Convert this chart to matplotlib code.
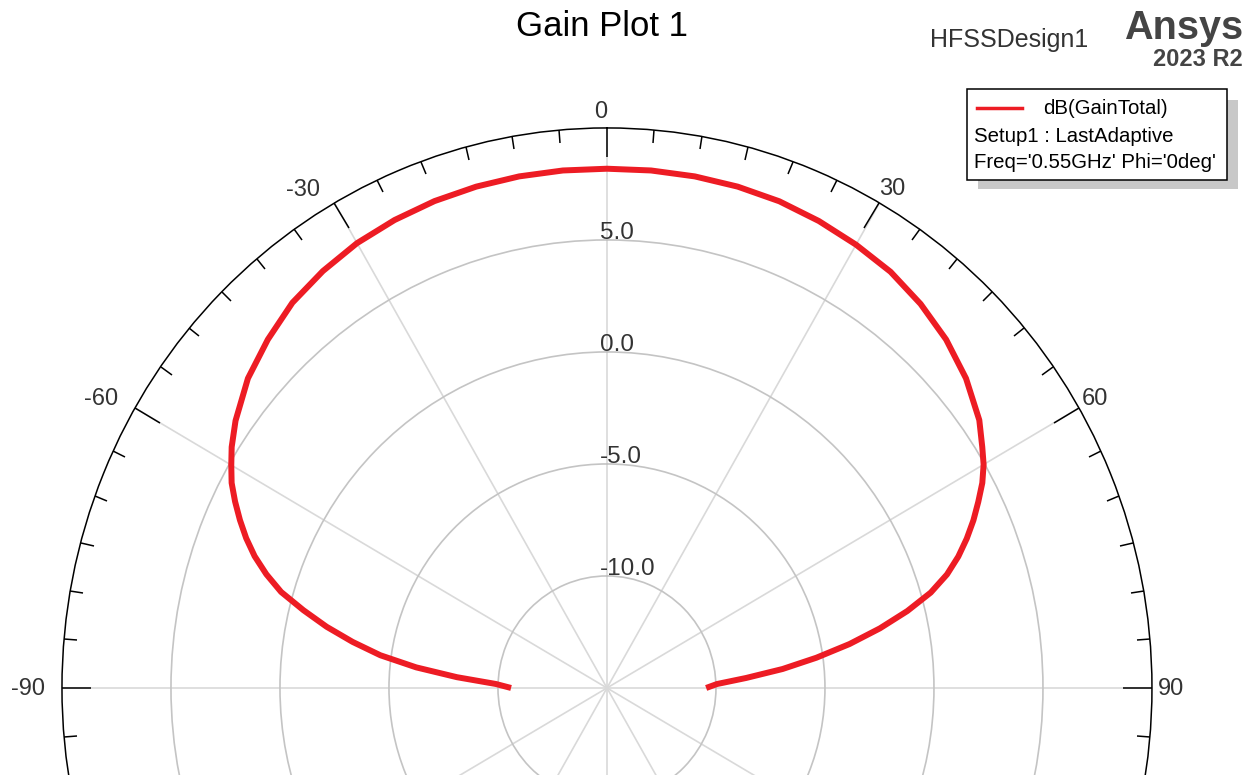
import numpy as np
import matplotlib
matplotlib.use('Agg')
import matplotlib.pyplot as plt
from matplotlib.patches import Rectangle
from matplotlib.lines import Line2D

plt.rcParams['font.family'] = ['Liberation Sans', 'DejaVu Sans']

# Far-field cut, Phi = 0deg, Freq = 0.55 GHz
theta_deg = [-90, -88, -86, -84, -82, -80, -78, -76, -74, -72, -70, -68, -66,
             -64, -62, -60, -58, -55, -50, -45, -40, -35, -30, -25, -20, -15,
             -10, -5, 0, 5, 10, 15, 20, 25, 30, 35, 40, 45, 50, 55, 58, 60,
             62, 64, 66, 68, 70, 72, 74, 76, 78, 80, 82, 84, 86, 88, 90]
gain_db = [-10.6, -9.9, -8.1, -6.2, -4.5, -3.15, -1.85, -0.65, 0.55, 1.43,
           2.2, 2.85, 3.43, 3.98, 4.5, 4.9, 5.3, 5.8, 6.5, 7.0, 7.45, 7.72,
           7.93, 8.05, 8.13, 8.17, 8.19, 8.19, 8.18, 8.19, 8.19, 8.17, 8.12,
           8.0, 7.85, 7.68, 7.38, 7.0, 6.5, 5.85, 5.3, 4.95, 4.5, 3.95, 3.4,
           2.8, 2.15, 1.4, 0.45, -0.8, -2.2, -3.7, -5.3, -6.9, -8.6, -9.95,
           -10.45]

r_min, r_max = -15, 10
r_ticks = [-10, -5, 0, 5]
theta_labels = [-90, -60, -30, 0, 30, 60, 90]
# label offsets (pixels) from the outer circle and alignment
label_pos = {
    0: (-6, 10, 'center', 'baseline'),
    30: (0, 8, 'left', 'baseline'),
    -30: (-14, 7, 'right', 'baseline'),
    60: (3, 3, 'left', 'baseline'),
    -60: (-17, 3, 'right', 'baseline'),
    90: (6, -1, 'left', 'center'),
    -90: (-17, -1, 'right', 'center'),
}

fig = plt.figure(figsize=(12.52, 7.75), dpi=100)

ax = fig.add_axes([0.0495, -0.6103, 0.8706, 1.4452], projection='polar')
ax.set_aspect('auto')
ax.set_theta_zero_location('N')
ax.set_theta_direction(-1)

ax.set_xticks(np.deg2rad(np.arange(0, 360, 30)))
ax.set_xticks(np.deg2rad(np.arange(0, 360, 5)), minor=True)
ax.set_xlim(0, 2 * np.pi)
ax.set_ylim(r_min, r_max)
ax.set_xticklabels([])
# tick marks on the outer rim, pointing inward
ax.tick_params(axis='x', which='both', top=True, bottom=False,
               labeltop=False, labelbottom=False)
ax.tick_params(axis='x', which='major', direction='in', length=21,
               width=1.1, color='black')
ax.tick_params(axis='x', which='minor', direction='in', length=9.5,
               width=1.1, color='black')
ax.set_yticks(r_ticks)
ax.set_yticklabels([])
ax.tick_params(axis='y', length=0)

ax.xaxis.grid(True, color='#d9d9d9', linewidth=1.2)
ax.yaxis.grid(True, color='#c4c4c4', linewidth=1.2)
ax.spines['polar'].set_color('black')
ax.spines['polar'].set_linewidth(1.1)

ax.plot(np.deg2rad(theta_deg), gain_db, color='#ED1C24', linewidth=4.3,
        solid_capstyle='butt', zorder=5)

# radial labels along the 0 deg spoke
for r in r_ticks:
    ax.annotate(f'{r:.1f}', xy=(0, r), xytext=(-7, 1),
                textcoords='offset pixels', ha='left', va='baseline',
                fontsize=17.5, color='#333333', annotation_clip=False)

# angle labels round the outside
for a in theta_labels:
    dx, dy, ha, va = label_pos[a]
    ax.annotate(str(a), xy=(np.deg2rad(a), r_max), xytext=(dx, dy),
                textcoords='offset pixels', ha=ha, va=va, fontsize=17,
                color='#333333', annotation_clip=False)

# header
fig.text(602 / 1252, 1 - 27 / 775, 'Gain Plot 1', ha='center', va='center',
         fontsize=25, color='black')
fig.text(930 / 1252, 1 - 40 / 775, 'HFSSDesign1', ha='left', va='center',
         fontsize=18, color='#333333')
fig.text(1243 / 1252, 1 - 28 / 775, 'Ansys', ha='right', va='center',
         fontsize=28.5, fontweight='bold', color='#444444')
fig.text(1243 / 1252, 1 - 60 / 775, '2023 R2', ha='right', va='center',
         fontsize=17, fontweight='bold', color='#444444')

# legend box with drop shadow
W, H = 1252, 775
fig.patches.append(Rectangle((978 / W, 1 - 189 / H), 260 / W, 89 / H,
                             transform=fig.transFigure, facecolor='#c8c8c8',
                             edgecolor='none', zorder=10))
fig.patches.append(Rectangle((967 / W, 1 - 180 / H), 260 / W, 91 / H,
                             transform=fig.transFigure, facecolor='white',
                             edgecolor='black', linewidth=1.1, zorder=11))
fig.lines.append(Line2D([977 / W, 1022 / W], [1 - 108 / H, 1 - 108 / H],
                        transform=fig.transFigure, color='#ED1C24',
                        linewidth=2.5, zorder=12))
fig.text(1043 / W, 1 - 108 / H, 'dB(GainTotal)', ha='left', va='center',
         fontsize=14.7, color='black', zorder=12)
fig.text(974 / W, 1 - 136 / H, 'Setup1 : LastAdaptive', ha='left',
         va='center', fontsize=14.7, color='black', zorder=12)
fig.text(974 / W, 1 - 163 / H, "Freq='0.55GHz' Phi='0deg'", ha='left',
         va='center', fontsize=14.7, color='black', zorder=12)

fig.savefig('out.png', dpi=100)
